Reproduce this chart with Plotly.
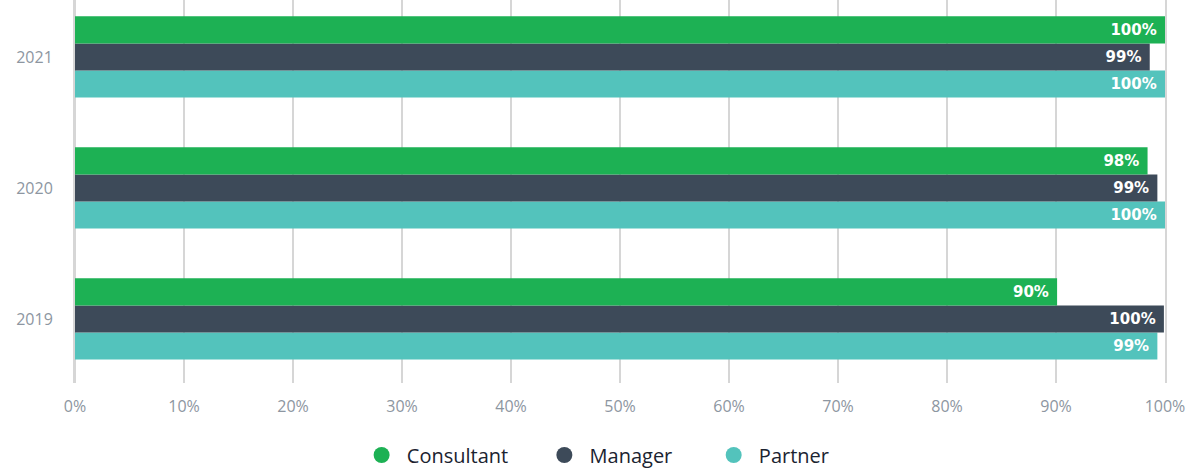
import plotly.graph_objects as go

years = ["2019", "2020", "2021"]
consultant = [90.1, 98.4, 100]
manager = [99.9, 99.3, 98.6]
partner = [99.3, 100, 100]
x_ticks = [0, 10, 20, 30, 40, 50, 60, 70, 80, 90, 100]
x_tick_labels = [f"{v}%" for v in x_ticks]

series = [
    ("Consultant", consultant, "#1db154"),
    ("Manager", manager, "#3d4a59"),
    ("Partner", partner, "#53c3bc"),
]
nb = "\u00a0"
trail = [6, 7, 0]

fig = go.Figure()
# bars: plotly puts the first trace at the bottom of each group
for name, vals, col in reversed(series):
    fig.add_trace(go.Bar(
        y=years, x=vals, name=name, orientation="h",
        marker=dict(color=col, line=dict(width=0)),
        text=vals, texttemplate="%{x:.0f}%" + nb, textposition="inside",
        insidetextanchor="end",
        textfont=dict(family="DejaVu Sans", size=15, color="white", weight=700),
        showlegend=False, cliponaxis=False,
    ))
# legend entries with round markers
for i, (name, vals, col) in enumerate(series):
    fig.add_trace(go.Scatter(
        x=[None], y=[None], mode="markers",
        name=nb + name + nb * trail[i],
        marker=dict(color=col, size=18, symbol="circle"),
        showlegend=True,
    ))

fig.update_layout(
    width=1195, height=468,
    margin=dict(l=75, r=30, t=0, b=85, autoexpand=False),
    paper_bgcolor="white", plot_bgcolor="white",
    barmode="group", bargap=0.38, bargroupgap=0,
    xaxis=dict(
        range=[0, 100], tickvals=x_ticks, ticktext=x_tick_labels,
        showgrid=True, gridcolor="#d6d6d6", gridwidth=2,
        zeroline=True, zerolinecolor="#d6d6d6", zerolinewidth=2,
        tickfont=dict(family="Open Sans", size=16, color="#8d96a1"),
        ticklabelstandoff=12, fixedrange=True, automargin=False,
    ),
    yaxis=dict(
        type="category", range=[-0.489, 2.435],
        showgrid=False, zeroline=False,
        showline=True, mirror=True, linecolor="#d6d6d6", linewidth=2,
        tickfont=dict(family="Open Sans", size=16, color="#8d96a1"),
        ticklabelstandoff=17, ticks="", automargin=False,
    ),
    legend=dict(
        orientation="h", x=0.5 - 24 / 1195, xanchor="center",
        yref="container", y=13 / 468, yanchor="middle",
        font=dict(family="Open Sans", size=20, color="#1b2330"),
        traceorder="normal",
    ),
    showlegend=True,
)

fig.write_html("out.html", config={"displayModeBar": False},
               post_script="document.body.style.margin='0';")
